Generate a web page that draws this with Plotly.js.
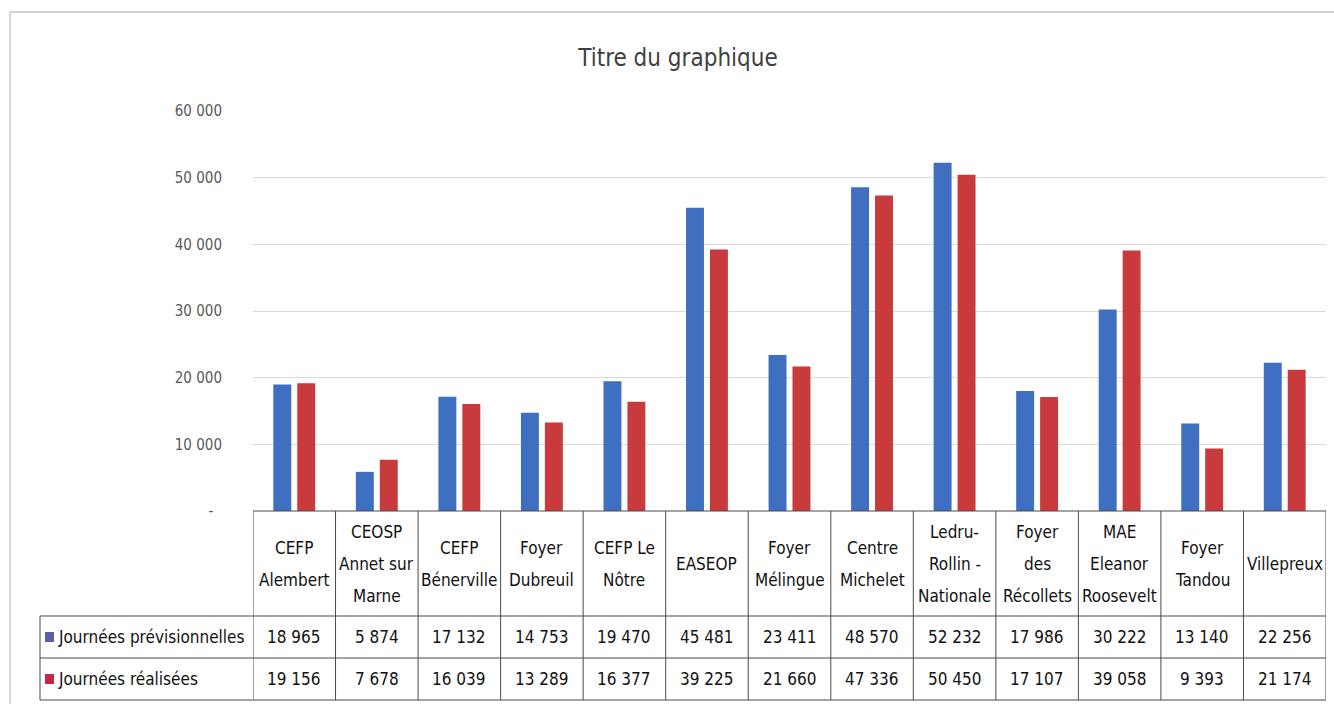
<!DOCTYPE html>
<html>
<head>
<meta charset="utf-8">
<script src="https://cdn.plot.ly/plotly-3.0.1.min.js"></script>
<style>html,body{margin:0;padding:0;background:#fff;}#chart{width:1334px;height:704px;}</style>
</head>
<body>
<div id="chart"></div>
<script>
// ---- data ----
var categories = ["CEFP Alembert","CEOSP Annet sur Marne","CEFP Bénerville","Foyer Dubreuil","CEFP Le Nôtre","EASEOP","Foyer Mélingue","Centre Michelet","Ledru-Rollin - Nationale","Foyer des Récollets","MAE Eleanor Roosevelt","Foyer Tandou","Villepreux"];
var headerLines = [["CEFP","Alembert"],["CEOSP","Annet sur","Marne"],["CEFP","Bénerville"],["Foyer","Dubreuil"],["CEFP Le","Nôtre"],["EASEOP"],["Foyer","Mélingue"],["Centre","Michelet"],["Ledru-","Rollin -","Nationale"],["Foyer","des","Récollets"],["MAE","Eleanor","Roosevelt"],["Foyer","Tandou"],["Villepreux"]];
var seriesNames = ["Journées prévisionnelles","Journées réalisées"];
var previsionnelles = [18965,5874,17132,14753,19470,45481,23411,48570,52232,17986,30222,13140,22256];
var realisees = [19156,7678,16039,13289,16377,39225,21660,47336,50450,17107,39058,9393,21174];
var tickVals = [0,10000,20000,30000,40000,50000,60000];
var tickText = ["-\u00a0\u00a0","10 000","20 000","30 000","40 000","50 000","60 000"];

// ---- style ----
var FONT = "DejaVu Sans Condensed, Liberation Sans Narrow, Open Sans, sans-serif";
var BLUE = "#3F6FC1", RED = "#C83A3B";
var SQ_BLUE = "#5B5EA6", SQ_RED = "#C8234A";
var LINE = "#4a4a4a";
var TXT = "#111";
var W = 1334, H = 704, L = 253, R = 8, T = 111, B = 193;
var plotW = W - L - R, plotH = H - T - B;
function py(p){ return (H - B - p) / plotH; }      // pixel y -> paper y
function px(p){ return (p - L) / plotW; }          // pixel x -> paper x
function fmt(v){ return String(v).replace(/\B(?=(\d{3})+(?!\d))/g, " "); }

var traces = [
  {type:"bar", name:seriesNames[0], x:categories, y:previsionnelles, marker:{color:BLUE}, hoverinfo:"x+y"},
  {type:"bar", name:seriesNames[1], x:categories, y:realisees, marker:{color:RED}, hoverinfo:"x+y"}
];

var annotations = [];
var shapes = [];
var n = categories.length;
var TS = 17;

// header text and values
for (var i = 0; i < n; i++) {
  var lines = headerLines[i];
  var center = 564, gap = 32;
  for (var k = 0; k < lines.length; k++) {
    var yy = center + (k - (lines.length - 1) / 2) * gap;
    annotations.push({xref:"x", yref:"paper", x:categories[i], y:py(yy), text:lines[k], showarrow:false,
      xanchor:"center", yanchor:"middle", font:{family:FONT, size:TS, color:TXT}});
  }
  annotations.push({xref:"x", yref:"paper", x:categories[i], y:py(637), text:fmt(previsionnelles[i]), showarrow:false,
    xanchor:"center", yanchor:"middle", font:{family:FONT, size:TS, color:TXT}});
  annotations.push({xref:"x", yref:"paper", x:categories[i], y:py(679), text:fmt(realisees[i]), showarrow:false,
    xanchor:"center", yanchor:"middle", font:{family:FONT, size:TS, color:TXT}});
}
// row labels
annotations.push({xref:"paper", yref:"paper", x:px(56), y:py(637), text:seriesNames[0], showarrow:false,
  xanchor:"left", yanchor:"middle", font:{family:FONT, size:TS, color:TXT}});
annotations.push({xref:"paper", yref:"paper", x:px(56), y:py(679), text:seriesNames[1], showarrow:false,
  xanchor:"left", yanchor:"middle", font:{family:FONT, size:TS, color:TXT}});

// legend squares
shapes.push({type:"rect", xref:"paper", yref:"paper", x0:px(45), x1:px(54), y0:py(642), y1:py(632), fillcolor:SQ_BLUE, line:{width:0}});
shapes.push({type:"rect", xref:"paper", yref:"paper", x0:px(45), x1:px(54), y0:py(684), y1:py(674), fillcolor:SQ_RED, line:{width:0}});

// vertical table lines
for (var j = 0; j <= n; j++) {
  shapes.push({type:"line", xref:"x", yref:"paper", x0:j - 0.5, x1:j - 0.5, y0:0, y1:py(700), line:{color:LINE, width:1}});
}
// left border of row labels
shapes.push({type:"line", xref:"paper", yref:"paper", x0:px(40), x1:px(40), y0:py(616), y1:py(700), line:{color:LINE, width:1}});
// horizontal table lines
shapes.push({type:"line", xref:"paper", yref:"paper", x0:0, x1:1, y0:0, y1:0, line:{color:LINE, width:1}});
[616, 658, 700].forEach(function(p){
  shapes.push({type:"line", xref:"paper", yref:"paper", x0:px(40), x1:1, y0:py(p), y1:py(p), line:{color:LINE, width:1}});
});
// outer chart frame
shapes.push({type:"line", xref:"paper", yref:"paper", x0:px(10), x1:px(1334), y0:py(12), y1:py(12), line:{color:"#d0d0d0", width:2}});
shapes.push({type:"line", xref:"paper", yref:"paper", x0:px(10), x1:px(10), y0:py(12), y1:py(704), line:{color:"#d8d8d8", width:2}});

var layout = {
  width:W, height:H,
  margin:{l:L, r:R, t:T, b:B, pad:0},
  paper_bgcolor:"#fff", plot_bgcolor:"#fff",
  showlegend:false,
  barmode:"group", bargap:0.42, bargroupgap:0.25,
  title:{text:"Titre du graphique", xref:"container", yref:"container", x:678/W, y:1 - 58/H,
    xanchor:"center", yanchor:"middle", font:{family:FONT, size:24, color:"#404040"}},
  xaxis:{type:"category", categoryorder:"array", categoryarray:categories, range:[-0.5, n - 0.5],
    showticklabels:false, showgrid:false, zeroline:false, showline:false, ticks:""},
  yaxis:{range:[0, 60000], tickvals:tickVals, ticktext:tickText, showgrid:true, gridcolor:"#d9d9d9", gridwidth:1,
    zeroline:false, showline:false, ticks:"", ticklabelstandoff:30,
    tickfont:{family:FONT, size:15, color:"#595959"}},
  annotations:annotations,
  shapes:shapes,
  font:{family:FONT}
};

Plotly.newPlot("chart", traces, layout, {displayModeBar:false, staticPlot:true});
</script>
</body>
</html>
